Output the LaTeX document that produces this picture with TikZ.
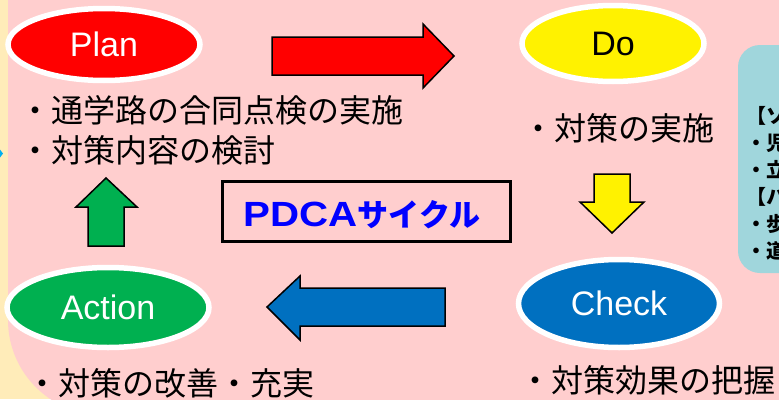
\documentclass[tikz,border=0pt]{standalone}
\usepackage{fontspec}
\usepackage{graphicx}
\setmainfont{Liberation Sans}
\newfontfamily\jp{Noto Sans CJK JP}
\usetikzlibrary{shapes.geometric}
\definecolor{cream}{RGB}{255,236,185}
\definecolor{pinkbg}{RGB}{255,206,206}
\definecolor{tealbg}{RGB}{160,214,220}
\definecolor{pgreen}{RGB}{0,176,80}
\definecolor{pblue}{RGB}{0,112,192}
\definecolor{pcyan}{RGB}{0,176,240}
\definecolor{pdcablue}{RGB}{0,0,255}
\tikzset{
  phase/.style={ellipse, draw=white, line width=5.5pt, inner sep=0pt, font=\fontsize{34}{34}\selectfont},
  blockarrow/.style={draw=black, line width=1.5pt, line join=miter},
  jptext/.style={anchor=west, inner sep=0pt, font=\jp\fontsize{32}{32}\selectfont},
  sidetext/.style={anchor=west, inner sep=0pt, font=\jp\bfseries\fontsize{20}{20}\selectfont},
}
\begin{document}
\begin{tikzpicture}[x=1pt,y=-1pt]
\useasboundingbox (0,0) rectangle (779,399);
\clip (0,0) rectangle (779,399);
% backgrounds
\fill[cream] (0,0) rectangle (779,399);
\fill[pinkbg, rounded corners=95pt] (8,-120) rectangle (900,415);
\fill[pcyan] (0,149.5) -- (3,153.5) -- (0,157.5) -- (-3,153.5) -- cycle;
\fill[tealbg, rounded corners=22pt] (738,45) rectangle (830,273);
% side texts
\node[sidetext] (s1) at (746,116) {【ソ};
\node[sidetext] (s2) at (746,143) {・児};
\node[sidetext] (s3) at (746,170) {・立};
\node[sidetext] (s4) at (746,197) {【ハ};
\node[sidetext] (s5) at (746,224) {・歩};
\node[sidetext] (s6) at (746,251) {・道};
% phases
\node[phase, fill=red, text=white, minimum width=192pt, minimum height=72pt] (plan) at (104,44.5) {Plan};
\node[phase, fill=yellow, text=black, minimum width=182pt, minimum height=76pt] (do) at (613,43.5) {Do};
\node[phase, fill=pgreen, text=white, minimum width=202pt, minimum height=80pt] (action) at (108,307.5) {Action};
\node[phase, fill=pblue, text=white, minimum width=201pt, minimum height=88pt] (check) at (619,303.5) {Check};
% block arrows
\draw[blockarrow, fill=red] (272,37) -- (423,37) -- (423,24) -- (454,56) -- (423,88) -- (423,75) -- (272,75) -- cycle;
\draw[blockarrow, fill=yellow] (594,174) -- (630,174) -- (630,202) -- (644,202) -- (612,233) -- (580,202) -- (594,202) -- cycle;
\draw[blockarrow, fill=pblue] (267,307) -- (300,276) -- (300,288) -- (445,288) -- (445,326) -- (300,326) -- (300,340) -- cycle;
\draw[blockarrow, fill=pgreen] (106,178) -- (137,207) -- (124,207) -- (124,246) -- (88,246) -- (88,207) -- (76,207) -- cycle;
% PDCA box
\node[draw, line width=3pt, fill=pinkbg, minimum width=288pt, minimum height=60pt, inner sep=0pt] (pdca) at (366.5,211.5) {};
\node[text=pdcablue, inner sep=0pt] (pdcalabel) at (362,215) {\bfseries\fontsize{35}{35}\selectfont\scalebox{1.15}[1]{PDCA}\jp\bfseries\fontsize{31}{31}\selectfont サイクル};
% item texts
\node[jptext] (p1) at (19,110) {・通学路の合同点検の実施};
\node[jptext] (p2) at (19,150) {・対策内容の検討};
\node[jptext] (d1) at (522,128) {・対策の実施};
\node[jptext] (a1) at (26.5,383) {・対策の改善・充実};
\node[jptext] (c1) at (519.5,380) {・対策効果の把握};
\end{tikzpicture}
\end{document}
